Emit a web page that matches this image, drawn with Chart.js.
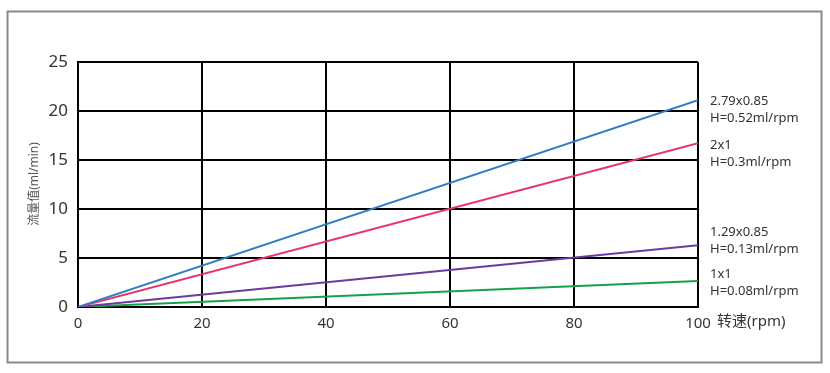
<!DOCTYPE html>
<html>
<head>
<meta charset="utf-8">
<script src="https://cdn.jsdelivr.net/npm/chart.js@4"></script>
<style>
  html, body { margin: 0; padding: 0; background: #fff; }
  #wrap { width: 830px; height: 373px; position: relative; }
</style>
</head>
<body>
<div id="wrap"><canvas id="chart_flow"></canvas></div>
<script>
// rpm at start and end of each line
const speeds = [0, 100];

// flow values (ml/min)
const blueFlow = [0, 21.1];
const pinkFlow = [0, 16.7];
const purpleFlow = [0, 6.3];
const greenFlow = [0, 2.65];

const seriesNames = ["2.79x0.85", "2x1", "1.29x0.85", "1x1"];
const seriesNotes = ["H=0.52ml/rpm", "H=0.3ml/rpm", "H=0.13ml/rpm", "H=0.08ml/rpm"];

const xTicks = [0, 20, 40, 60, 80, 100];
const yTicks = [0, 5, 10, 15, 20, 25];

const xTitle = "转速(rpm)";
const yTitle = "流量值(ml/min)";

const colors = ["#2a7fc8", "#e8336e", "#6a3a9e", "#16a04a"];
const labelTops = [101, 145, 232, 274];

const fontFamily = '"Noto Sans", "Noto Sans CJK SC", sans-serif';

function toPoints(values) {
  let pts = [];
  for (let i = 0; i < speeds.length; i++) {
    pts.push({ x: speeds[i], y: values[i] });
  }
  return pts;
}

const allFlows = [blueFlow, pinkFlow, purpleFlow, greenFlow];
let dataset = [];
for (let i = 0; i < allFlows.length; i++) {
  dataset.push({
    label: seriesNames[i],
    data: toPoints(allFlows[i]),
    borderColor: colors[i],
    backgroundColor: colors[i],
    borderWidth: 2,
    pointRadius: 0,
    tension: 0
  });
}

// frame, side labels and axis titles
const extras = {
  id: 'extras',
  afterDraw(chart) {
    const ctx = chart.ctx;
    const area = chart.chartArea;
    ctx.save();

    ctx.strokeStyle = '#8a8a8a';
    ctx.lineWidth = 2;
    ctx.strokeRect(7.5, 11.5, 814, 351);

    ctx.fillStyle = '#333';
    ctx.font = '13px ' + fontFamily;
    ctx.textAlign = 'left';
    ctx.textBaseline = 'middle';
    for (let i = 0; i < seriesNames.length; i++) {
      ctx.fillText(seriesNames[i], area.right + 12, labelTops[i]);
      ctx.fillText(seriesNotes[i], area.right + 12, labelTops[i] + 17);
    }

    ctx.font = '15px ' + fontFamily;
    ctx.fillText(xTitle, area.right + 19, 322);

    ctx.translate(35, 184);
    ctx.rotate(-Math.PI / 2);
    ctx.textAlign = 'center';
    ctx.fillStyle = '#555';
    ctx.font = '12px ' + fontFamily;
    ctx.fillText(yTitle, 0, 0);

    ctx.restore();
  }
};

new Chart(document.getElementById('chart_flow'), {
  type: 'line',
  data: { datasets: dataset },
  options: {
    responsive: true,
    maintainAspectRatio: false,
    animation: false,
    layout: { padding: { left: 0, top: 62, right: 132, bottom: 0 } },
    plugins: {
      legend: { display: false },
      tooltip: { enabled: false }
    },
    scales: {
      x: {
        type: 'linear',
        min: 0,
        max: 100,
        afterFit: (scale) => { scale.height = 66; },
        afterBuildTicks: (scale) => { scale.ticks = xTicks.map(v => ({ value: v })); },
        border: { display: true, color: '#000', width: 2 },
        grid: { color: '#000', lineWidth: 2, drawTicks: false },
        ticks: {
          color: '#333',
          padding: 8,
          maxRotation: 0,
          font: { family: fontFamily, size: 15 }
        }
      },
      y: {
        min: 0,
        max: 25,
        afterFit: (scale) => { scale.width = 78; },
        afterBuildTicks: (scale) => { scale.ticks = yTicks.map(v => ({ value: v })); },
        border: { display: true, color: '#000', width: 2 },
        grid: { color: '#000', lineWidth: 2, drawTicks: false },
        ticks: {
          color: '#333',
          padding: 10,
          font: { family: fontFamily, size: 17 }
        }
      }
    }
  },
  plugins: [extras]
});
</script>
</body>
</html>
